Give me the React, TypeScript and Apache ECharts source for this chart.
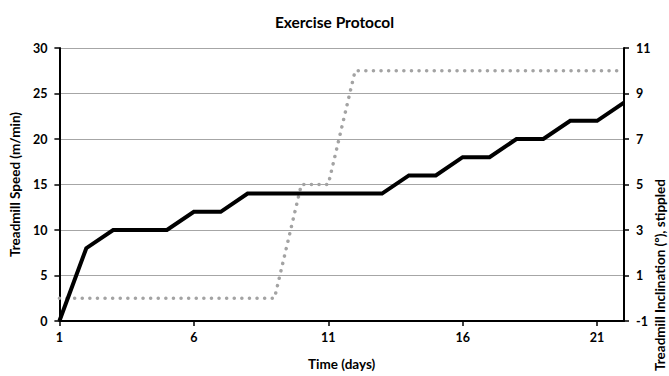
import React, { useEffect, useRef } from "react";
import * as echarts from "echarts";

const days = ["1","2","3","4","5","6","7","8","9","10","11","12","13","14","15","16","17","18","19","20","21","22"];
const speed = [0, 8, 10, 10, 10, 12, 12, 14, 14, 14, 14, 14, 14, 16, 16, 18, 18, 20, 20, 22, 22, 24];
const incline = [0, 0, 0, 0, 0, 0, 0, 0, 0, 5, 5, 10, 10, 10, 10, 10, 10, 10, 10, 10, 10, 10];
const inclineTicks = [-1, 1, 3, 5, 7, 9, 11];

const FONT = "Lato";

export default function App() {
  const ref = useRef<HTMLDivElement>(null);
  useEffect(() => {
    if (!ref.current) return;
    const chart = echarts.init(ref.current, undefined, { renderer: "svg" });
    const labelStyle = { color: "#000", fontWeight: "bold" as const, fontSize: 12.5, fontFamily: FONT };
    const nameStyle = { color: "#000", fontWeight: "bold" as const, fontSize: 13.5, fontFamily: FONT };
    chart.setOption({
      animation: false,
      backgroundColor: "#fff",
      title: {
        text: "Exercise Protocol",
        left: "center",
        top: 9,
        textStyle: { fontFamily: FONT, fontWeight: "bold", fontSize: 15.5, color: "#000" },
      },
      grid: { left: 56, right: 45, top: 48, bottom: 49, containLabel: false },
      xAxis: {
        type: "category",
        data: days,
        boundaryGap: false,
        name: "Time (days)",
        nameLocation: "middle",
        nameGap: 36,
        nameTextStyle: nameStyle,
        axisLine: { lineStyle: { color: "#000", width: 2 } },
        axisTick: { show: true, interval: 4, length: 5, lineStyle: { color: "#000", width: 1.5 } },
        axisLabel: { ...labelStyle, interval: 4, margin: 10 },
        splitLine: { show: false },
      },
      yAxis: [
        {
          type: "value",
          min: 0,
          max: 30,
          interval: 5,
          name: "Treadmill Speed (m/min)",
          nameLocation: "middle",
          nameGap: 36,
          nameRotate: 90,
          nameTextStyle: nameStyle,
          axisLine: { show: true, lineStyle: { color: "#000", width: 2 } },
          axisTick: { show: true, length: 5, lineStyle: { color: "#000", width: 1.5 } },
          axisLabel: { ...labelStyle, margin: 12 },
          splitLine: { show: true, lineStyle: { color: "#a6a6a6", width: 1 } },
        },
        {
          type: "value",
          min: -1,
          max: 11,
          position: "right",
          axisLine: { show: true, lineStyle: { color: "#000", width: 2 } },
          axisTick: { show: true, length: 5, customValues: inclineTicks, lineStyle: { color: "#000", width: 1.5 } },
          axisLabel: { ...labelStyle, margin: 12, customValues: inclineTicks },
          splitLine: { show: false },
        },
      ],
      graphic: [
        {
          type: "text",
          x: 660,
          y: 371,
          rotation: Math.PI / 2,
          style: {
            text: "Treadmill Inclination (º), stippled",
            fontFamily: FONT,
            fontWeight: "bold",
            fontSize: 13.5,
            fill: "#000",
            textAlign: "left",
            textVerticalAlign: "middle",
          },
        },
      ],
      series: [
        {
          type: "line",
          data: incline,
          yAxisIndex: 1,
          showSymbol: false,
          symbol: "none",
          lineStyle: { color: "#a3a3a3", width: 3.5, type: [0.1, 7.5], cap: "round" },
          z: 2,
        },
        {
          type: "line",
          data: speed,
          yAxisIndex: 0,
          showSymbol: false,
          symbol: "none",
          lineStyle: { color: "#000", width: 4, cap: "butt", join: "miter" },
          z: 3,
        },
      ],
    });
    return () => chart.dispose();
  }, []);
  return <div ref={ref} style={{ position: "fixed", left: 0, top: 0, width: 669, height: 376, background: "#fff" }} />;
}
